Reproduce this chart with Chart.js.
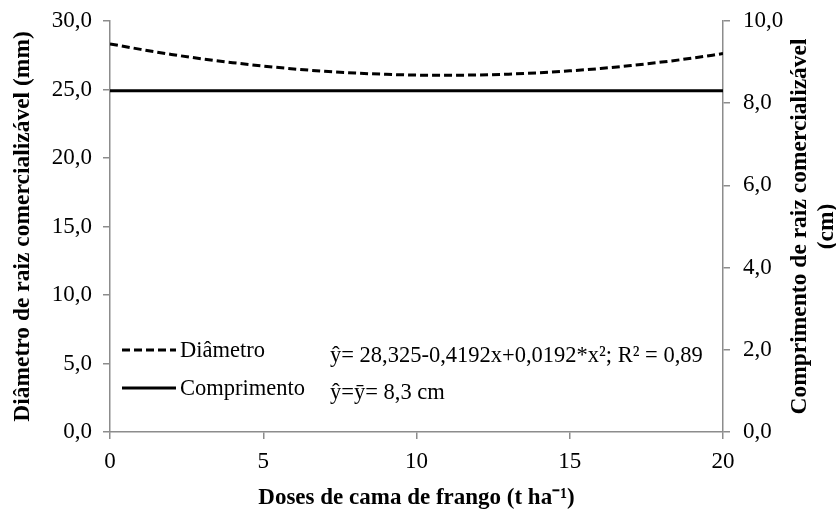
<!DOCTYPE html>
<html>
<head>
<meta charset="utf-8">
<script src="https://cdn.jsdelivr.net/npm/chart.js@4.4.0/dist/chart.umd.min.js"></script>
<style>
  html, body { margin: 0; padding: 0; background: #fff; }
  #wrap { width: 836px; height: 509px; }
</style>
</head>
<body>
<div id="wrap"><canvas id="chart" width="836" height="509"></canvas></div>
<script>
// doses (t/ha) where the curve was read
var doses = [0, 1, 2, 3, 4, 5, 6, 7, 8, 9, 10, 11, 12, 13, 14, 15, 16, 17, 18, 19, 20];
// Diametro (mm)
var diametro = [28.33, 27.93, 27.56, 27.24, 26.96, 26.71, 26.50, 26.33, 26.20, 26.11, 26.05,
                26.04, 26.06, 26.12, 26.22, 26.36, 26.53, 26.75, 27.00, 27.29, 27.62];
// Comprimento (cm), flat mean line on the right axis
var comprDoses = [0, 20];
var comprimento = [8.3, 8.3];

var xTicks = [0, 5, 10, 15, 20];
var leftTicks = [0, 5, 10, 15, 20, 25, 30];
var rightTicks = [0, 2, 4, 6, 8, 10];

var eqDiametro = 'ŷ= 28,325-0,4192x+0,0192*x²; R² = 0,89';
var eqComprimento = 'ŷ=ȳ= 8,3 cm';

var serif = "'Liberation Serif', 'Times New Roman', serif";
var axisGray = '#8c8c8c';

function comma(v) {
    return v.toFixed(1).replace('.', ',');
}

// legend + equations inside the plot, and the right title (reads bottom to top)
var extras = {
    id: 'extras',
    afterDraw: function(chart) {
        var ctx = chart.ctx;
        var area = chart.chartArea;
        var sets = chart.data.datasets;
        ctx.save();
        ctx.font = '22.5px ' + serif;
        ctx.fillStyle = '#000';
        ctx.textBaseline = 'middle';
        var rows = [area.bottom - 81, area.bottom - 43];
        for (var i = 0; i < sets.length; i++) {
            ctx.beginPath();
            ctx.strokeStyle = '#000';
            ctx.lineWidth = 3;
            ctx.setLineDash(sets[i].borderDash || []);
            ctx.moveTo(area.left + 12, rows[i] - 1);
            ctx.lineTo(area.left + 66, rows[i] - 1);
            ctx.stroke();
            ctx.setLineDash([]);
            ctx.textAlign = 'left';
            ctx.fillText(sets[i].label, area.left + 70, rows[i]);
        }
        ctx.fillText(eqDiametro, area.left + 220, rows[0] + 5);
        ctx.fillText(eqComprimento, area.left + 220, rows[1] + 4);

        // right axis title
        ctx.font = 'bold 23.5px ' + serif;
        ctx.textAlign = 'center';
        var cy = (area.top + area.bottom) / 2;
        var lines = ['Comprimento de raiz comercializável', '(cm)'];
        for (var j = 0; j < lines.length; j++) {
            ctx.save();
            ctx.translate(800 + j * 27, cy);
            ctx.rotate(-Math.PI / 2);
            ctx.fillText(lines[j], 0, 0);
            ctx.restore();
        }
        ctx.restore();
    }
};

var ctx = document.getElementById('chart').getContext('2d');
var chart = new Chart(ctx, {
    type: 'line',
    data: {
        datasets: [{
            label: 'Diâmetro',
            data: doses.map(function(d, i) { return {x: d, y: diametro[i]}; }),
            yAxisID: 'y',
            borderColor: '#000',
            borderWidth: 3,
            borderDash: [8, 4],
            pointRadius: 0,
            cubicInterpolationMode: 'monotone',
            fill: false
        }, {
            label: 'Comprimento',
            data: comprDoses.map(function(d, i) { return {x: d, y: comprimento[i]}; }),
            yAxisID: 'y1',
            borderColor: '#000',
            borderWidth: 3,
            pointRadius: 0,
            fill: false
        }]
    },
    options: {
        responsive: false,
        animation: false,
        layout: { padding: { top: 21, right: 0, bottom: 0, left: 0 } },
        plugins: {
            legend: { display: false },
            tooltip: { enabled: false }
        },
        scales: {
            x: {
                type: 'linear',
                min: 0,
                max: 20,
                afterFit: function(s) { s.height = 77; },
                afterBuildTicks: function(s) { s.ticks = xTicks.map(function(v) { return {value: v}; }); },
                ticks: {
                    color: '#000',
                    padding: 9,
                    font: { family: serif, size: 23 },
                    callback: function(v) { return v; }
                },
                grid: { drawOnChartArea: false, tickLength: 7, color: axisGray, lineWidth: 1.5 },
                border: { color: axisGray, width: 1.5 },
                title: {
                    display: true,
                    text: 'Doses de cama de frango (t ha⁻¹)',
                    color: '#000',
                    font: { family: serif, size: 23, weight: 'bold' },
                    padding: { top: 0, bottom: -3 }
                }
            },
            y: {
                position: 'left',
                min: 0,
                max: 30,
                afterFit: function(s) { s.width = 110; s.paddingTop = 0; s.paddingBottom = 0; },
                afterBuildTicks: function(s) { s.ticks = leftTicks.map(function(v) { return {value: v}; }); },
                ticks: {
                    color: '#000',
                    padding: 11,
                    font: { family: serif, size: 23 },
                    callback: function(v) { return comma(v); }
                },
                grid: { drawOnChartArea: false, tickLength: 7, color: axisGray, lineWidth: 1.5 },
                border: { color: axisGray, width: 1.5 },
                title: {
                    display: true,
                    text: 'Diâmetro de raiz comercializável (mm)',
                    color: '#000',
                    font: { family: serif, size: 23.5, weight: 'bold' },
                    padding: { top: 9, bottom: 0 }
                }
            },
            y1: {
                position: 'right',
                min: 0,
                max: 10,
                afterFit: function(s) { s.width = 113; s.paddingTop = 0; s.paddingBottom = 0; },
                afterBuildTicks: function(s) { s.ticks = rightTicks.map(function(v) { return {value: v}; }); },
                ticks: {
                    color: '#000',
                    padding: 13,
                    font: { family: serif, size: 23 },
                    callback: function(v) { return comma(v); }
                },
                grid: { drawOnChartArea: false, tickLength: 7, color: axisGray, lineWidth: 1.5 },
                border: { color: axisGray, width: 1.5 }
            }
        }
    },
    plugins: [extras]
});
</script>
</body>
</html>
